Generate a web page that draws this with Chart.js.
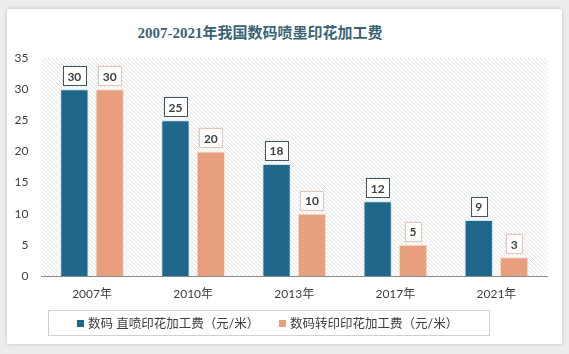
<!DOCTYPE html>
<html lang="zh">
<head>
<meta charset="UTF-8">
<title>2007-2021年我国数码喷墨印花加工费</title>
<script src="https://cdn.jsdelivr.net/npm/chart.js"></script>
<style>
    body { margin: 0; width: 569px; height: 354px; background: #ededed; overflow: hidden; }
    .card {
        position: absolute; left: 7px; top: 9px; width: 555px; height: 335px;
        background: #fff; box-shadow: 0 0 4px rgba(0,0,0,0.18);
    }
    .title {
        position: absolute; left: 0; top: 12px; width: 506px; text-align: center;
        font: bold 15px 'Liberation Serif', 'Noto Sans CJK SC', serif; color: #3a6474;
    }
    canvas { position: absolute; left: 0; top: 0; }
</style>
</head>
<body>
<div class="card">
    <div class="title">2007-2021年我国数码喷墨印花加工费</div>
    <canvas id="chart" width="555" height="335"></canvas>
</div>

<script>
const years = ['2007年', '2010年', '2013年', '2017年', '2021年'];
const directFee = [30, 25, 18, 12, 9];
const transferFee = [30, 20, 10, 5, 3];
const seriesNames = ['数码 直喷印花加工费（元/米）', '数码转印印花加工费（元/米）'];
const yTicks = [0, 5, 10, 15, 20, 25, 30, 35];

const FONT = "Lato, 'Noto Sans CJK SC', sans-serif";

// diagonal hatch for the plot background
function hatch() {
    const c = document.createElement('canvas');
    c.width = 4; c.height = 4;
    const g = c.getContext('2d');
    g.strokeStyle = '#e2e2e2';
    g.lineWidth = 1;
    g.beginPath();
    g.moveTo(0, 0); g.lineTo(4, 4);
    g.moveTo(-1, 3); g.lineTo(1, 5);
    g.moveTo(3, -1); g.lineTo(5, 1);
    g.stroke();
    return g.createPattern(c, 'repeat');
}

const bgPlugin = {
    id: 'bg',
    beforeDraw(chart) {
        const a = chart.chartArea, ctx = chart.ctx;
        ctx.save();
        ctx.fillStyle = hatch();
        ctx.fillRect(a.left, a.top, a.right - a.left, a.bottom - a.top);
        ctx.restore();
    }
};

// boxed value labels above the bars
const labelPlugin = {
    id: 'boxLabels',
    afterDatasetsDraw(chart) {
        const ctx = chart.ctx;
        const borders = ['#3c5866', '#e9c6b4'];
        ctx.save();
        ctx.font = 'bold 12px ' + FONT;
        ctx.textAlign = 'center';
        ctx.textBaseline = 'middle';
        chart.data.datasets.forEach((ds, i) => {
            chart.getDatasetMeta(i).data.forEach((bar, j) => {
                const txt = String(ds.data[j]);
                const w = ctx.measureText(txt).width + 9;
                const h = 19;
                const x = bar.x - w / 2, y = bar.y - 4 - h;
                ctx.shadowColor = 'rgba(0,0,0,0.15)';
                ctx.shadowBlur = 2;
                ctx.fillStyle = '#fff';
                ctx.fillRect(x, y, w, h);
                ctx.shadowBlur = 0;
                ctx.strokeStyle = borders[i];
                ctx.lineWidth = 1;
                ctx.strokeRect(Math.round(x) + 0.5, Math.round(y) + 0.5, Math.round(w), h);
                ctx.fillStyle = '#404040';
                ctx.fillText(txt, bar.x, y + h / 2 + 1);
            });
        });
        ctx.restore();
    }
};

// legend inside a thin box under the axis labels
const legendPlugin = {
    id: 'boxLegend',
    afterDraw(chart) {
        const ctx = chart.ctx;
        ctx.save();
        ctx.strokeStyle = '#d0d0d0';
        ctx.lineWidth = 1;
        ctx.strokeRect(41.5, 301.5, 441, 25);
        ctx.font = '12.5px ' + FONT;
        ctx.textBaseline = 'middle';
        const starts = [70, 272];
        chart.data.datasets.forEach((ds, i) => {
            ctx.fillStyle = ds.backgroundColor;
            ctx.fillRect(starts[i], 311, 7, 7);
            ctx.fillStyle = '#404040';
            ctx.fillText(ds.label, starts[i] + 11, 314.5);
        });
        ctx.restore();
    }
};

new Chart(document.getElementById('chart'), {
    type: 'bar',
    data: {
        labels: years,
        datasets: [
            { label: seriesNames[0], data: directFee, backgroundColor: '#1f688b', borderColor: '#cfe0e6', borderWidth: 1 },
            { label: seriesNames[1], data: transferFee, backgroundColor: '#e89f7d', borderColor: '#f6ddd0', borderWidth: 1 }
        ]
    },
    options: {
        responsive: false,
        animation: false,
        layout: { padding: { top: 49, right: 15, bottom: 42, left: 0 } },
        categoryPercentage: 0.7,
        barPercentage: 0.8,
        plugins: {
            legend: { display: false },
            tooltip: { enabled: false }
        },
        scales: {
            x: {
                grid: { display: false, drawTicks: false },
                border: { color: '#8c8c8c', width: 1 },
                ticks: { padding: 11, color: '#404040', font: { size: 12, family: FONT } },
                afterFit: s => { s.height = 26; }
            },
            y: {
                min: 0, max: 35,
                afterBuildTicks: s => { s.ticks = yTicks.map(v => ({ value: v })); },
                grid: { display: false, drawTicks: false },
                border: { display: false },
                ticks: { padding: 13, color: '#404040', font: { size: 12, family: FONT } },
                afterFit: s => { s.width = 34.5; }
            }
        }
    },
    plugins: [bgPlugin, labelPlugin, legendPlugin]
});
</script>
</body>
</html>
